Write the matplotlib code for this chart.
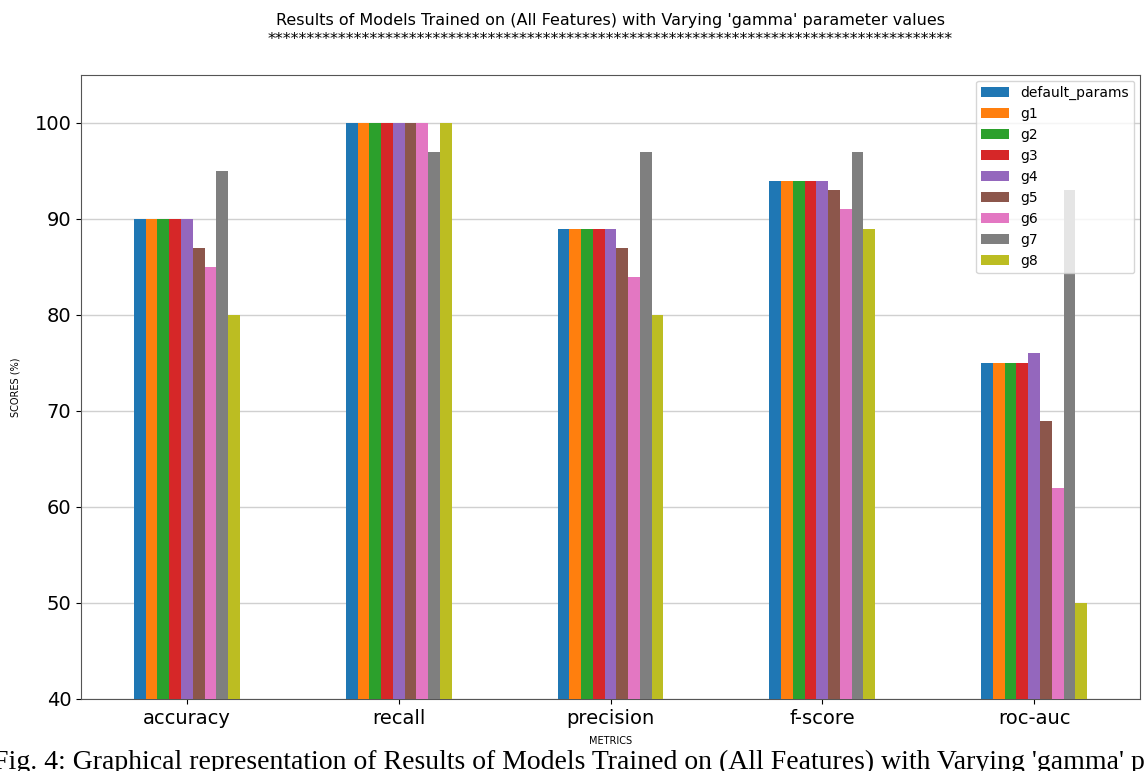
import pandas as pd
import matplotlib.pyplot as plt

# Scores (%)
metrics = ['accuracy', 'recall', 'precision', 'f-score', 'roc-auc']
default_params = [90, 100, 89, 94, 75]
g1 = [90, 100, 89, 94, 75]
g2 = [90, 100, 89, 94, 75]
g3 = [90, 100, 89, 94, 75]
g4 = [90, 100, 89, 94, 76]
g5 = [87, 100, 87, 93, 69]
g6 = [85, 100, 84, 91, 62]
g7 = [95, 97, 97, 97, 93]
g8 = [80, 100, 80, 89, 50]

df = pd.DataFrame({'default_params': default_params, 'g1': g1, 'g2': g2, 'g3': g3,
                   'g4': g4, 'g5': g5, 'g6': g6, 'g7': g7, 'g8': g8}, index=metrics)

fig = plt.figure(figsize=(11.44, 7.71), dpi=100)
ax = fig.add_axes([81 / 1144, 1 - 699 / 771, (1140 - 81) / 1144, (699 - 75) / 771])

df.plot(kind='bar', ax=ax, width=0.5, rot=0, zorder=3)

ax.set_ylim(40, 105)
ax.yaxis.grid(True, color='#d0d0d0', linewidth=1, zorder=0)
ax.set_axisbelow(True)
ax.tick_params(axis='both', labelsize=14)
for s in ax.spines.values():
    s.set_color('#555555')

ax.set_title("Results of Models Trained on (All Features) with Varying 'gamma' parameter values\n" + '*' * 87,
             fontsize=11.5, pad=22, linespacing=1.4)
ax.set_xlabel('METRICS', fontsize=7, labelpad=6)
ax.set_ylabel('SCORES (%)', fontsize=7, labelpad=10)

ax.legend(loc='upper right', fontsize=10, borderaxespad=0.4)

# caption of the figure (cut off in the original screenshot)
fig.text(-0.006, 0.002, "Fig. 4: Graphical representation of Results of Models Trained on (All Features) with Varying 'gamma' parameter values",
         fontsize=20, family='Liberation Serif', ha='left', va='baseline')

plt.savefig('out.png', dpi=100)
